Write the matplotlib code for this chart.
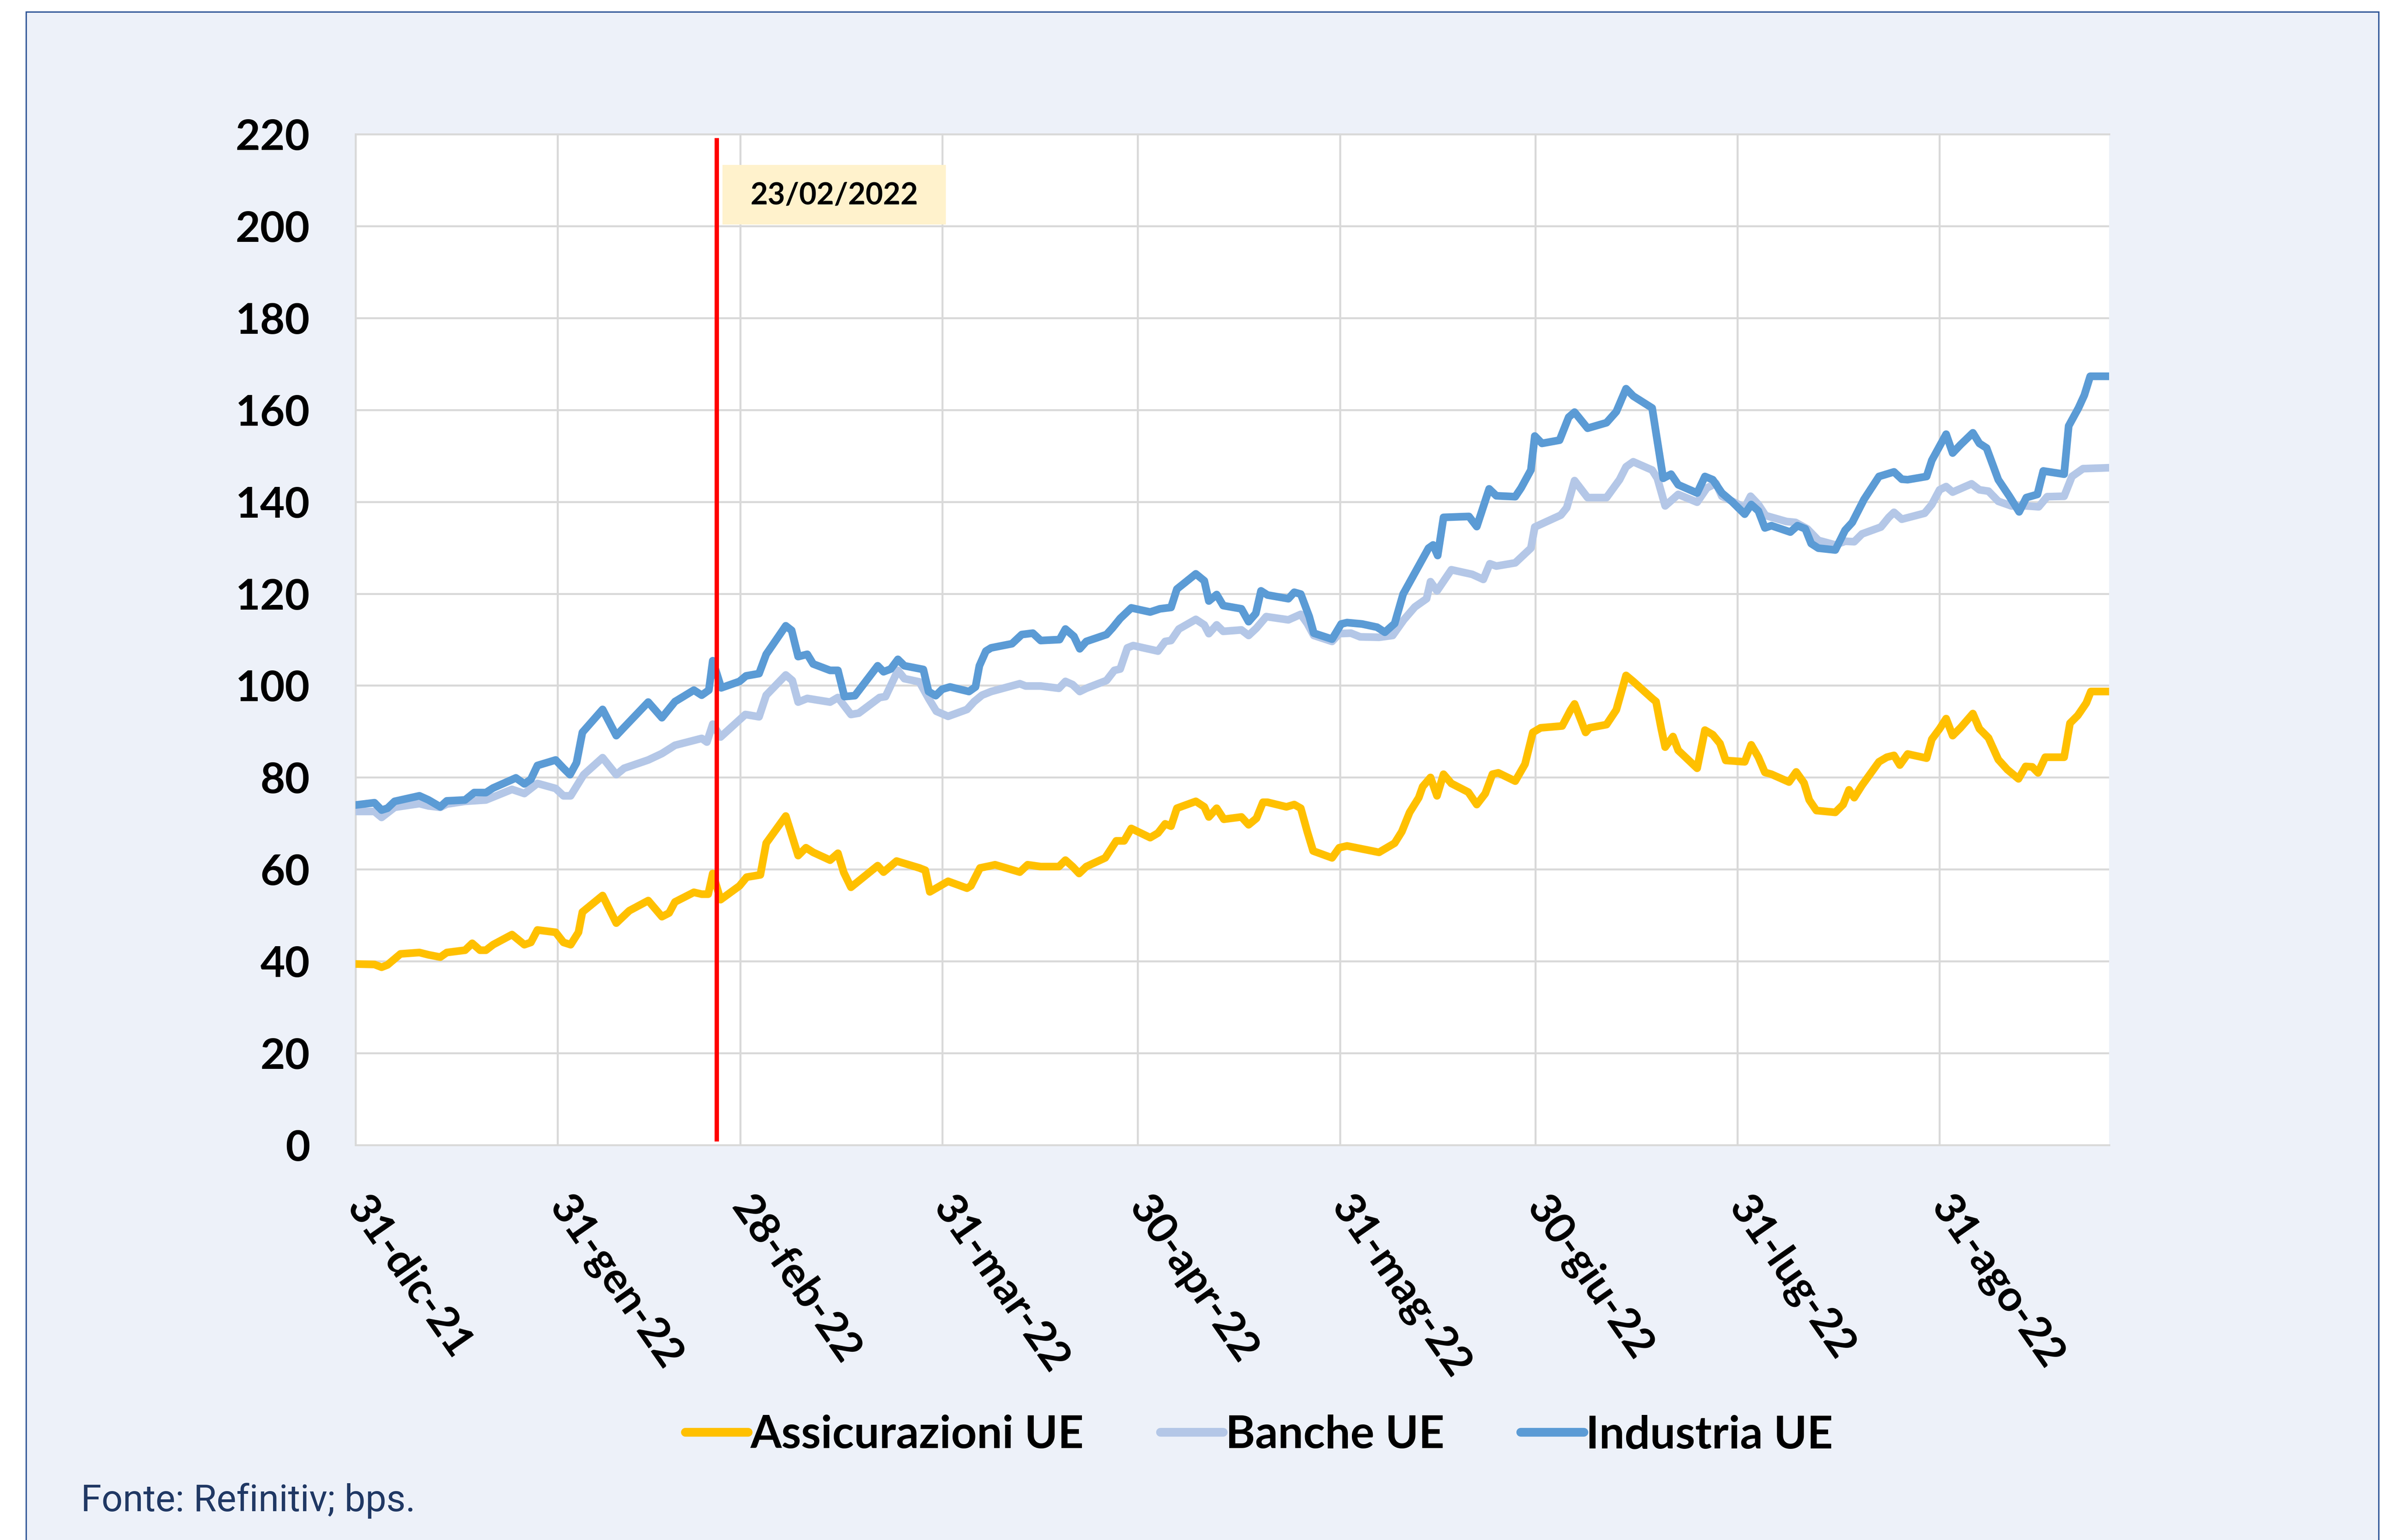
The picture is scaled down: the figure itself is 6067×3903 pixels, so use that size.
import pandas as pd
import matplotlib
matplotlib.use("Agg")
import matplotlib.pyplot as plt
from matplotlib.patches import Rectangle

# x values are days counted from 31-dic-21, values in bps
ass_days = [0, 2.9, 4.0, 4.9, 6.9, 9.8, 11.2, 13.0, 14.0, 16.8, 17.9, 19.1, 20.0, 21.1, 24.0, 25.9, 26.9, 27.9,
            30.7, 31.9, 33.0, 34.2, 34.8, 37.9, 40.0, 42.0, 44.9, 47.0, 48.1, 49.0, 51.9, 53.1, 54.1, 54.8,
            56.0, 58.9, 60.0, 62.1, 63.0, 66.0, 66.6, 67.9, 69.1, 70.2, 72.8, 74.0, 74.9, 76.0, 80.1, 81.0,
            83.0, 86.5, 87.4, 88.1, 90.9, 93.8, 94.4, 95.8, 97.5, 98.1, 101.9, 103.1, 105.1, 107.9, 108.9,
            110.0, 111.0, 112.1, 115.0, 116.7, 117.9, 119.0, 121.9, 123.1, 124.2, 125.1, 126.0, 128.9, 130.2,
            130.9, 132.1, 133.2, 135.9, 137.0, 138.2, 139.2, 139.9, 142.8, 144.0, 145.0, 146.0, 146.9, 149.8,
            150.9, 152.1, 157.0, 159.4, 160.5, 161.7, 163.1, 163.7, 164.9, 165.9, 166.9, 168.1, 170.7, 172.0,
            173.3, 174.4, 175.3, 177.9, 179.4, 180.6, 181.8, 185.1, 186.4, 187.0, 188.7, 189.3, 191.9, 193.4,
            194.9, 196.0, 198.9, 199.5, 200.3, 200.9, 202.1, 202.9, 205.8, 207.0, 208.2, 209.3, 210.2, 213.1,
            214.1, 215.2, 216.2, 217.2, 219.9, 221.0, 222.2, 223.0, 224.1, 227.0, 228.2, 229.1, 229.9, 231.1,
            233.7, 234.9, 236.0, 236.9, 238.1, 241.0, 241.8, 243.0, 244.0, 245.0, 246.2, 248.1, 249.1, 250.5,
            252.0, 253.4, 255.1, 256.2, 257.2, 258.1, 259.2, 262.1, 263.0, 264.2, 265.5, 266.2, 269.0]
ass_vals = [39.4, 39.3, 38.7, 39.2, 41.6, 41.9, 41.4, 40.9, 41.9, 42.4, 43.9, 42.4, 42.4, 43.6, 45.8, 43.6, 44.1, 46.8,
            46.3, 44.1, 43.6, 46.3, 50.7, 54.3, 48.3, 51.0, 53.2, 49.7, 50.5, 52.9, 55.0, 54.6, 54.6, 59.1,
            53.4, 56.4, 58.3, 58.8, 65.7, 71.6, 68.9, 63.0, 64.7, 63.7, 62.0, 63.5, 59.3, 56.1, 60.8, 59.4,
            61.8, 60.3, 59.8, 55.1, 57.4, 55.9, 56.4, 60.3, 60.8, 61.0, 59.4, 61.0, 60.6, 60.6, 62.0,
            60.6, 59.1, 60.6, 62.5, 66.2, 66.2, 68.9, 66.9, 67.9, 69.9, 69.4, 73.3, 74.8, 73.6,
            71.4, 73.3, 70.9, 71.4, 69.7, 71.1, 74.6, 74.6, 73.6, 74.1, 73.3, 68.2, 64.0, 62.5,
            64.7, 65.1, 63.7, 65.7, 68.2, 72.4, 75.6, 78.0, 80.0, 76.0, 80.7, 78.7, 76.8, 74.1,
            76.5, 80.7, 81.0, 79.2, 82.9, 89.8, 90.8, 91.2, 94.7, 96.0, 89.8, 90.8, 91.5, 94.7,
            102.2, 100.9, 97.2, 96.5, 90.6, 86.6, 88.9, 85.9, 82.0, 90.3, 89.3, 87.4, 83.7, 83.4,
            87.1, 84.4, 81.1, 80.7, 79.0, 81.2, 78.8, 75.1, 72.8, 72.4, 74.1, 77.3, 75.6, 78.3,
            83.4, 84.4, 84.8, 82.7, 85.1, 84.2, 88.3, 90.6, 92.8, 89.1, 90.8, 93.9, 90.6, 88.6,
            83.9, 81.7, 79.7, 82.4, 82.3, 81.0, 84.4, 84.4, 91.8, 93.5, 96.2, 98.7, 98.7]

ban_days = [0, 2.9, 4.0, 6.0, 9.8, 11.2, 13.0, 14.0, 16.8, 20.0, 24.0, 25.9, 27.9, 30.7, 31.9, 33.0, 35.0, 37.9,
            40.0, 41.2, 44.9, 47.0, 49.0, 53.1, 53.9, 54.8, 56.0, 59.8, 61.9, 63.0, 66.0, 67.0, 67.9, 69.3,
            72.8, 74.0, 76.0, 77.2, 80.4, 81.3, 83.2, 84.2, 86.5, 87.9, 89.1, 90.9, 93.8, 94.9, 96.1, 97.5,
            101.9, 102.8, 105.1, 107.9, 108.9, 110.0, 111.1, 112.1, 115.2, 116.4, 117.3, 118.4, 119.3, 123.1,
            124.2, 125.1, 126.3, 128.9, 130.2, 130.9, 132.1, 133.1, 135.9, 137.0, 138.2, 139.7, 143.1, 145.0,
            146.0, 147.0, 149.8, 150.9, 152.7, 154.1, 157.0, 159.1, 160.8, 162.5, 164.3, 164.9, 165.9, 168.1,
            171.3, 173.0, 174.0, 175.0, 177.9, 180.3, 180.9, 184.9, 185.8, 187.0, 189.0, 191.9, 193.9, 194.9,
            196.0, 198.9, 199.7, 200.9, 202.9, 205.8, 207.3, 208.7, 209.6, 212.2, 213.1, 214.0, 215.2, 216.3,
            219.5, 220.9, 222.7, 224.4, 227.0, 228.5, 229.9, 231.1, 234.0, 235.2, 236.0, 237.2, 240.7, 241.8,
            243.0, 244.0, 245.0, 247.9, 249.1, 250.5, 252.0, 254.0, 256.3, 258.2, 259.5, 262.1, 263.3, 265.0,
            269.0]
ban_vals = [72.6, 72.6, 71.3, 73.5, 74.3, 73.8, 73.5, 74.2, 74.8, 75.1, 77.4, 76.5, 78.7, 77.6, 76.0, 76.0, 80.6, 84.3,
            80.6, 82.0, 83.8, 85.2, 87.0, 88.5, 87.7, 91.6, 88.8, 93.7, 93.2, 97.9, 102.3, 101.1, 96.4, 97.2,
            96.4, 97.4, 93.7, 94.0, 97.4, 97.6, 103.3, 101.5, 100.8, 97.2, 94.4, 93.3, 94.8, 96.5, 97.9, 98.7,
            100.4, 99.9, 99.9, 99.4, 100.9, 100.2, 98.7, 99.4, 101.1, 103.3, 103.6, 108.2, 108.7, 107.5,
            109.6, 109.8, 112.3, 114.4, 113.2, 111.3, 113.2, 111.8, 112.1, 110.9, 112.5, 115.0, 114.3, 115.5,
            113.5, 110.9, 109.6, 111.3, 111.4, 110.6, 110.5, 110.9, 114.3, 117.1, 118.9, 122.6, 120.6, 125.2,
            124.2, 123.1, 126.5, 126.0, 126.7, 129.9, 134.5, 137.1, 138.7, 144.6, 140.9, 140.9, 144.8, 147.6,
            148.7, 146.9, 145.1, 139.1, 141.6, 139.9, 143.0, 144.0, 141.2, 139.4, 138.7, 141.2, 139.4, 137.0,
            135.7, 135.5, 134.1, 131.6, 130.6, 131.4, 131.3, 133.0, 134.5, 136.6, 137.7, 136.2, 137.5, 139.4,
            142.6, 143.3, 142.1, 143.9, 142.6, 142.3, 140.1, 139.1, 139.1, 138.9, 141.1, 141.2, 145.5, 147.2,
            147.4]

ind_days = [0, 2.9, 4.0, 4.9, 6.0, 9.8, 11.2, 13.0, 14.0, 16.8, 18.2, 20.0, 21.1, 24.6, 25.9, 26.9, 27.9, 30.7,
            31.9, 32.9, 33.9, 34.8, 37.9, 40.0, 41.2, 44.9, 47.0, 49.0, 51.9, 53.1, 54.2, 54.8, 56.1, 58.9,
            59.9, 61.9, 63.0, 66.0, 66.9, 67.9, 69.3, 70.2, 72.8, 74.0, 75.0, 76.6, 80.1, 81.0, 82.1, 83.2,
            84.2, 87.1, 87.9, 89.0, 90.0, 91.2, 94.1, 95.1, 95.7, 96.7, 97.5, 100.7, 102.2, 103.9, 105.1,
            108.0, 108.9, 110.2, 111.1, 112.1, 115.2, 116.1, 117.3, 119.0, 121.9, 123.4, 125.1, 126.0, 128.9,
            130.2, 130.9, 132.1, 133.1, 135.9, 137.0, 138.1, 138.9, 139.9, 143.1, 144.0, 145.0, 146.3, 147.0,
            149.8, 151.2, 152.1, 154.4, 156.7, 157.9, 159.4, 160.7, 164.6, 165.3, 166.0, 166.9, 170.8, 172.0,
            173.9, 175.0, 177.9, 178.8, 180.3, 180.9, 182.0, 184.7, 186.1, 187.0, 189.0, 191.9, 193.4, 194.9,
            196.0, 198.9, 200.6, 201.8, 202.9, 205.8, 207.0, 208.2, 209.6, 211.1, 213.1, 214.1, 215.2, 216.2,
            217.2, 220.1, 221.2, 222.4, 223.3, 224.4, 227.0, 228.5, 229.6, 231.4, 233.7, 236.0, 237.2, 238.1,
            241.0, 241.8, 244.0, 245.0, 246.2, 248.1, 249.1, 250.2, 252.0, 253.7, 255.2, 256.3, 258.0, 258.9,
            262.1, 262.8, 264.3, 265.2, 266.1, 269.0]
ind_vals = [74.0, 74.5, 72.9, 73.3, 74.8, 76.0, 75.1, 73.6, 74.9, 75.1, 76.7, 76.7, 77.7, 79.9, 78.6, 79.6, 82.6, 83.8,
            82.0, 80.6, 83.2, 89.8, 94.8, 89.1, 90.9, 96.4, 93.0, 96.5, 99.0, 97.9, 99.0, 105.4, 99.5, 100.9,
            102.1, 102.6, 106.8, 113.0, 112.0, 106.3, 106.8, 104.7, 103.3, 103.3, 97.6, 97.8, 104.3, 103.0, 103.6, 105.7,
            104.3, 103.5, 98.7, 97.8, 99.2, 99.7, 98.7, 99.7, 104.3, 107.5, 108.2, 109.1, 111.1, 111.4, 109.8,
            110.0, 112.3, 110.7, 108.0, 109.6, 111.1, 112.5, 114.6, 116.9, 116.0, 116.7, 117.0, 121.0, 124.3,
            122.8, 118.4, 119.8, 117.4, 116.7, 113.9, 115.7, 120.6, 119.7, 118.9, 120.3, 119.9, 115.0, 111.4,
            110.1, 113.4, 113.7, 113.4, 112.7, 111.6, 113.5, 119.9, 129.9, 130.6, 128.3, 136.6, 136.8, 134.6,
            142.8, 141.3, 141.1, 143.0, 146.9, 154.3, 152.7, 153.4, 158.4, 159.5, 156.0, 157.2, 159.6, 164.6,
            163.0, 160.4, 145.1, 146.0, 143.7, 141.9, 145.5, 144.8, 141.9, 140.1, 137.3, 139.4, 138.0, 134.3,
            134.8, 133.4, 134.8, 134.1, 130.9, 129.9, 129.5, 133.8, 135.5, 140.5, 145.5, 146.5, 144.9, 144.8,
            145.5, 149.0, 154.7, 150.6, 152.4, 155.0, 152.7, 151.7, 144.8, 141.2, 137.8, 140.9, 141.6, 146.7,
            146.0, 156.5, 160.4, 163.2, 167.3, 167.3]

series_names = ["Assicurazioni UE", "Banche UE", "Industria UE"]
series_colors = ["#FFC000", "#B4C7E7", "#5B9BD5"]

tick_dates = ["2021-12-31", "2022-01-31", "2022-02-28", "2022-03-31", "2022-04-30",
              "2022-05-31", "2022-06-30", "2022-07-31", "2022-08-31"]
tick_labels = ["31-dic-21", "31-gen-22", "28-feb-22", "31-mar-22", "30-apr-22",
               "31-mag-22", "30-giu-22", "31-lug-22", "31-ago-22"]
y_ticks = list(range(0, 221, 20))

event_day = 55.4
event_label = "23/02/2022"
source_note = "Fonte: Refinitiv; bps."

start = pd.Timestamp("2021-12-31")
tick_days = [(pd.Timestamp(d) - start).days for d in tick_dates]

plt.rcParams["font.family"] = ["Lato", "DejaVu Sans"]

W, H = 6067, 3903
fig = plt.figure(figsize=(W / 100, H / 100), dpi=100, facecolor="white")

# light blue panel with dark border behind everything
fig.patches.append(Rectangle((66 / W, -0.02), (6028 - 66) / W, 1.02 - 30 / H,
                             transform=fig.transFigure, facecolor="#EDF1F9",
                             edgecolor="#2F5597", linewidth=2.5, zorder=-10))

ax = fig.add_axes([901 / W, 1 - 2902 / H, (5345 - 901) / W, (2902 - 340) / H])
ax.set_zorder(1)
ax.set_facecolor("white")

all_days = [ass_days, ban_days, ind_days]
all_vals = [ass_vals, ban_vals, ind_vals]
handles = []
for d, v, name, c in zip(all_days, all_vals, series_names, series_colors):
    ln, = ax.plot(d, v, color=c, lw=14, label=name, solid_joinstyle="round", zorder=3)
    handles.append(ln)

ax.axvline(event_day, ymin=0.006, ymax=0.994, color="#FF0000", lw=8, zorder=6)

# date label box
ax.add_patch(Rectangle((0.2093, 0.9106), 0.1273, 0.059, transform=ax.transAxes,
                       facecolor="#FFF2CC", edgecolor="none", zorder=4))
ax.text(0.2728, 0.9395, event_label, transform=ax.transAxes, ha="center", va="center",
        fontsize=55, fontweight="bold", color="black", zorder=5)

ax.set_xlim(0, 269)
ax.set_ylim(0, 220)
ax.set_yticks(y_ticks)
ax.set_xticks(tick_days)
ax.set_xticklabels(tick_labels, rotation=-55, ha="left", va="center", rotation_mode="anchor")

ax.grid(True, color="#D9D9D9", lw=3.6)
ax.set_axisbelow(True)
for side in ["left", "bottom", "top"]:
    ax.spines[side].set_color("#D9D9D9")
    ax.spines[side].set_linewidth(3.6)
ax.spines["right"].set_visible(False)

ax.tick_params(axis="both", length=0, labelsize=78, colors="black")
ax.tick_params(axis="y", pad=83)
ax.tick_params(axis="x", pad=101)
for lab in ax.get_xticklabels() + ax.get_yticklabels():
    lab.set_fontweight("bold")

leg = fig.legend(handles=handles, loc="center", bbox_to_anchor=(0.526, 0.0682), ncol=3,
                 frameon=False, prop={"family": "Lato", "weight": "bold", "size": 82},
                 handlelength=1.4, handletextpad=0.05, columnspacing=1.7)
for ln in leg.get_lines():
    ln.set_linewidth(16)
    ln.set_solid_capstyle("round")

fig.text(205 / W, 1 - 3803 / H, source_note, family="Roboto", fontsize=68,
         color="#203864", ha="left", va="center")

fig.savefig("out.png", dpi=100, facecolor=fig.get_facecolor())
